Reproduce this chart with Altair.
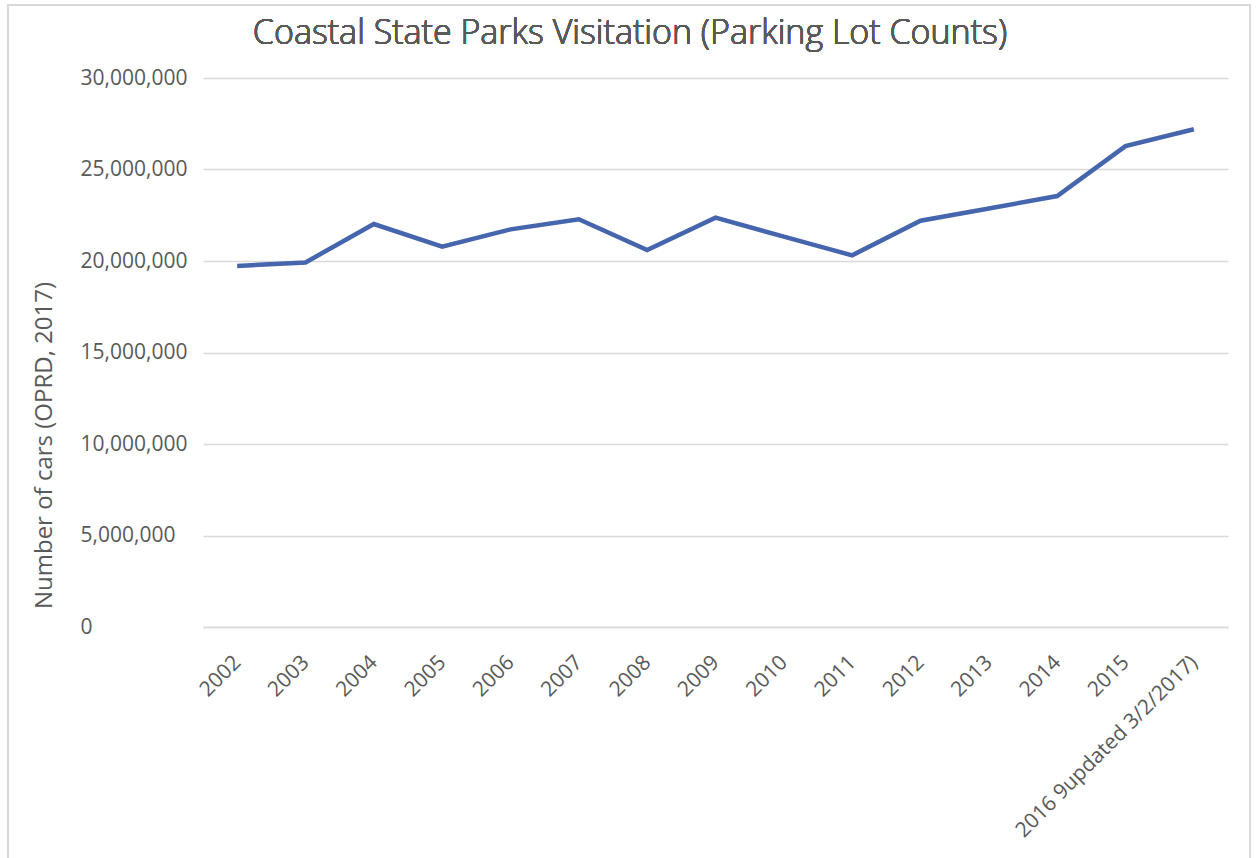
import altair as alt
import pandas as pd

# Parking lot counts at coastal state parks, by year
years = ["2002", "2003", "2004", "2005", "2006", "2007", "2008", "2009",
         "2010", "2011", "2012", "2013", "2014", "2015",
         "2016 9updated 3/2/2017)"]
cars = [19730000, 19920000, 22020000, 20780000, 21730000, 22280000,
        20600000, 22370000, 21330000, 20310000, 22200000, 22870000,
        23550000, 26280000, 27200000]
y_ticks = [0, 5000000, 10000000, 15000000, 20000000, 25000000, 30000000]
chart_title = "Coastal State Parks Visitation (Parking Lot Counts)"

df = pd.DataFrame({"year": years, "cars": cars})

FONT = "Open Sans"
TEXT = "#595959"
GRID = "#d9d9d9"

W, H = 1025, 549
LEFT, TOP = 203, 78

line = alt.Chart(df).mark_line(color="#4565ad", strokeWidth=4.5, strokeJoin="miter").encode(
    x=alt.X("year:N", sort=years, title=None,
            scale=alt.Scale(paddingInner=0, paddingOuter=0),
            axis=alt.Axis(labelAngle=-45, labelAlign="right", labelBaseline="middle",
                          labelPadding=32, ticks=False, tickSize=0, domain=True,
                          domainColor=GRID, domainWidth=1.5, labelColor=TEXT,
                          labelFont=FONT, labelFontSize=21, labelLimit=400,
                          labelOverlap=False)),
    y=alt.Y("cars:Q", title="Number of cars (OPRD, 2017)",
            scale=alt.Scale(domain=[0, 30000000], nice=False),
            axis=alt.Axis(values=y_ticks, format=",.0f", ticks=False, tickSize=0,
                          domain=False, gridColor=GRID, gridWidth=1.5,
                          labelAlign="left", labelPadding=123, labelColor=TEXT,
                          labelFont=FONT, labelFontSize=21,
                          titleColor=TEXT, titleFont=FONT, titleFontSize=24,
                          titleFontWeight="normal", titleAngle=270,
                          titleAlign="center", titleBaseline="middle",
                          titleX=44 - LEFT, titleY=445 - TOP)),
)

# chart heading, centred over the whole figure
heading = alt.Chart(df).mark_text(
    font=FONT, fontSize=34, fontWeight=300, color=TEXT, align="center",
    baseline="alphabetic"
).encode(x=alt.value(630 - LEFT), y=alt.value(44 - TOP), text=alt.value(chart_title))

# light frame around the whole figure
frame = alt.Chart(df).mark_rect(fill=None, stroke=GRID, strokeWidth=1.5).encode(
    x=alt.value(8 - LEFT), x2=alt.value(1250 - LEFT),
    y=alt.value(5 - TOP), y2=alt.value(870 - TOP),
)

chart = alt.layer(frame, line, heading).properties(
    width=W, height=H,
    autosize=alt.AutoSizeParams(type="none"),
    padding={"left": LEFT, "top": TOP, "right": 1256 - LEFT - W, "bottom": 858 - TOP - H},
    background="white",
).configure_view(stroke=None)

chart.save("out.html", embed_options={"renderer": "svg", "actions": False})
